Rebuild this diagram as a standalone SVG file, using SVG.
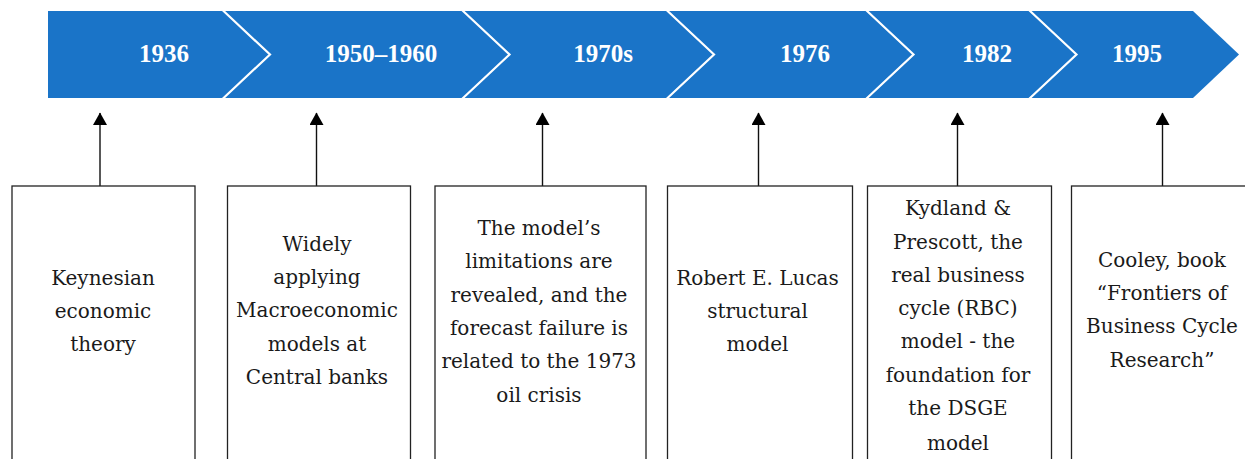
<svg xmlns="http://www.w3.org/2000/svg" width="1245" height="459" viewBox="0 0 1245 459">
  <style>
    .year { font-family: "Liberation Serif", "Times New Roman", serif; font-weight: bold; font-size: 25px; fill: #ffffff; text-anchor: middle; }
    .box rect { fill: #ffffff; stroke: #222222; stroke-width: 1.3; }
    .box text { font-family: "DejaVu Serif", "Liberation Serif", serif; font-size: 20px; fill: #1a1a1a; text-anchor: middle; }
    .sep { fill: none; stroke: #ffffff; stroke-width: 2.2; stroke-linejoin: miter; }
    .link { stroke: #111111; stroke-width: 1.4; marker-end: url(#tip); }
  </style>
  <defs>
    <!-- filled triangular arrowhead, tip at the end of the line -->
    <marker id="tip" markerUnits="userSpaceOnUse" markerWidth="13" markerHeight="14" refX="12" refY="7" orient="auto" viewBox="0 0 13 14">
      <path d="M0,0 L12.5,7 L0,14 Z" fill="#000000"/>
    </marker>
  </defs>
  <rect width="1245" height="459" fill="#ffffff"/>

  <!-- timeline band -->
  <g id="band">
    <polygon points="48,11 1193,11 1239,54.5 1193,98 48,98" fill="#1a74c8"/>
    <polyline class="sep" points="222.5,10 270,54.5 222.5,99"/>
    <polyline class="sep" points="462,10 509.5,54.5 462,99"/>
    <polyline class="sep" points="666.5,10 714,54.5 666.5,99"/>
    <polyline class="sep" points="866,10 913.5,54.5 866,99"/>
    <polyline class="sep" points="1029,10 1076.5,54.5 1029,99"/>
    <text class="year" x="164" y="62">1936</text>
    <text class="year" x="381" y="62">1950–1960</text>
    <text class="year" x="603" y="62">1970s</text>
    <text class="year" x="805" y="62">1976</text>
    <text class="year" x="987" y="62">1982</text>
    <text class="year" x="1137" y="62">1995</text>
  </g>

  <!-- connectors from event boxes up to the band -->
  <g id="connectors">
    <line class="link" x1="100" y1="186" x2="100" y2="113"/>
    <line class="link" x1="316.5" y1="186" x2="316.5" y2="113"/>
    <line class="link" x1="542.5" y1="186" x2="542.5" y2="113"/>
    <line class="link" x1="758.5" y1="186" x2="758.5" y2="113"/>
    <line class="link" x1="957.5" y1="186" x2="957.5" y2="113"/>
    <line class="link" x1="1162.5" y1="186" x2="1162.5" y2="113"/>
  </g>

  <g id="box-1936" class="box">
    <rect x="12" y="186" width="183" height="290"/>
    <text x="103" y="285">Keynesian</text>
    <text x="103" y="318">economic</text>
    <text x="103" y="351">theory</text>
  </g>

  <g id="box-1950-1960" class="box">
    <rect x="227.5" y="186" width="183" height="290"/>
    <text x="317" y="251">Widely</text>
    <text x="317" y="284">applying</text>
    <text x="317" y="317">Macroeconomic</text>
    <text x="317" y="351">models at</text>
    <text x="317" y="384">Central banks</text>
  </g>

  <g id="box-1970s" class="box">
    <rect x="435" y="186" width="211" height="290"/>
    <text x="539" y="235">The model’s</text>
    <text x="539" y="268">limitations are</text>
    <text x="539" y="301.5">revealed, and the</text>
    <text x="539" y="335">forecast failure is</text>
    <text x="539" y="368">related to the 1973</text>
    <text x="539" y="401.5">oil crisis</text>
  </g>

  <g id="box-1976" class="box">
    <rect x="667.5" y="186" width="185" height="290"/>
    <text x="757.5" y="285">Robert E. Lucas</text>
    <text x="757.5" y="318">structural</text>
    <text x="757.5" y="351">model</text>
  </g>

  <g id="box-1982" class="box">
    <rect x="867.5" y="186" width="184" height="290"/>
    <text x="958" y="215">Kydland &amp;</text>
    <text x="958" y="248.5">Prescott, the</text>
    <text x="958" y="281.5">real business</text>
    <text x="958" y="315">cycle (RBC)</text>
    <text x="958" y="348">model - the</text>
    <text x="958" y="381.5">foundation for</text>
    <text x="958" y="415">the DSGE</text>
    <text x="958" y="450">model</text>
  </g>

  <g id="box-1995" class="box">
    <rect x="1071.5" y="186" width="190" height="290"/>
    <text x="1162" y="267">Cooley, book</text>
    <text x="1162" y="300">“Frontiers of</text>
    <text x="1162" y="333">Business Cycle</text>
    <text x="1162" y="366.5">Research”</text>
  </g>
</svg>
